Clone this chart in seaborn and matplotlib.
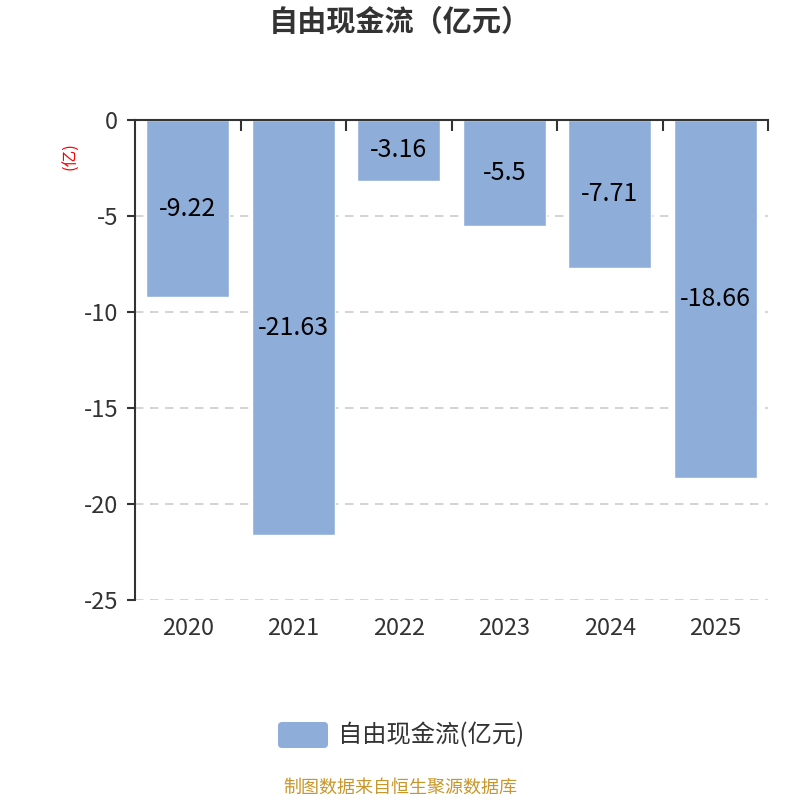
import numpy as np
import matplotlib
matplotlib.use("Agg")
import matplotlib.pyplot as plt
import seaborn as sns
import pandas as pd
from matplotlib.patches import FancyBboxPatch

years = ["2020", "2021", "2022", "2023", "2024", "2025"]
free_cash_flow = [-9.22, -21.63, -3.16, -5.5, -7.71, -18.66]
y_ticks = [0, -5, -10, -15, -20, -25]

sns.set_theme(style="white")
plt.rcParams['font.family'] = ['Noto Sans CJK SC', 'DejaVu Sans']

bar_color = "#8EADD9"
text_color = "#333333"

df = pd.DataFrame({"year": years, "value": free_cash_flow})

fig = plt.figure(figsize=(8, 8), dpi=100)
ax = fig.add_axes([0.16875, 0.25, 0.79125, 0.6])

sns.barplot(data=df, x="year", y="value", color=bar_color, width=0.79,
            saturation=1, ax=ax, zorder=3)

ax.set_ylim(-25, 0)
ax.set_xlim(-0.5, len(years) - 0.5)
ax.set_yticks(y_ticks)
ax.set_yticklabels([str(v) for v in y_ticks], color=text_color, fontsize=17)
ax.set_xticks(range(len(years)))
ax.set_xticklabels(years, color=text_color, fontsize=17)
ax.set_xlabel("")
ax.set_ylabel("(亿)", color="red", fontsize=12)
ax.yaxis.set_label_coords(-0.088, 0.925)

# gridlines
for v in y_ticks[1:]:
    ax.axhline(v, color="#cccccc", linestyle=(0, (5, 4)), linewidth=1.2, zorder=1)

# spines
ax.spines['bottom'].set_visible(False)
ax.spines['right'].set_visible(False)
ax.spines['top'].set_color(text_color)
ax.spines['left'].set_color(text_color)
ax.spines['top'].set_linewidth(1.5)
ax.spines['left'].set_linewidth(1.5)
ax.spines['top'].set_zorder(5)

ax.tick_params(axis='x', bottom=False, top=False, pad=6)
ax.tick_params(axis='y', left=True, length=6, width=1.5, color=text_color, pad=6)
ax.set_xticks([k + 0.5 for k in range(len(years))], minor=True)
ax.tick_params(axis='x', which='minor', top=True, bottom=False, direction='in',
               length=8, width=1.5, color=text_color)

# value labels
for i, v in enumerate(free_cash_flow):
    ax.text(i, v / 2, f"{v:g}", ha="center", va="center", fontsize=18,
            color="black", zorder=6)

fig.text(0.5, 0.972, "自由现金流（亿元）", ha="center", va="center",
         fontsize=21, fontweight="bold", color=text_color)

# legend
fig.patches.append(FancyBboxPatch((0.3475 + 0.005, 0.065 + 0.005), 0.0625 - 0.01, 0.0325 - 0.01,
                                  boxstyle="round,pad=0.005", transform=fig.transFigure,
                                  facecolor=bar_color, edgecolor="none"))
fig.text(0.4225, 0.0815, "自由现金流(亿元)", ha="left", va="center",
         fontsize=17.5, color=text_color)

fig.text(0.5, 0.015, "制图数据来自恒生聚源数据库", ha="center", va="center",
         fontsize=13, color="#C8962A")

fig.savefig("out.png", dpi=100)
